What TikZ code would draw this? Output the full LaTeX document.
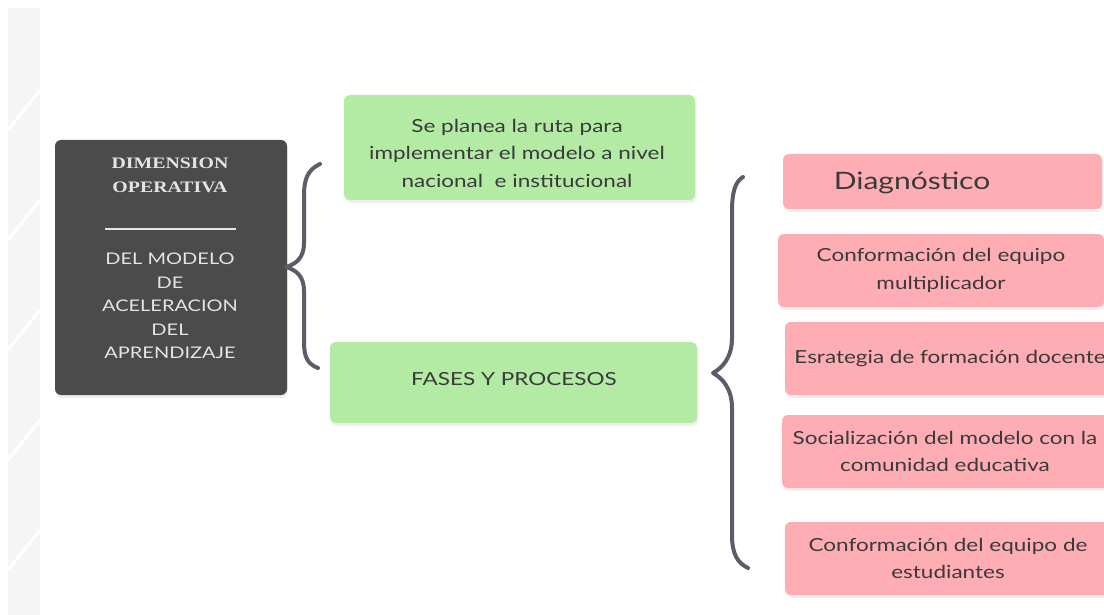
\documentclass[tikz,border=0pt]{standalone}
\usepackage{fontspec}
\setmainfont{Lato}[FakeStretch=1.25]
\newfontfamily\dimfont{Liberation Serif}[FakeStretch=1.24]
\usetikzlibrary{shadows}

\definecolor{darkfill}{HTML}{4B4B4B}
\definecolor{greenfill}{HTML}{B3EBA5}
\definecolor{pinkfill}{HTML}{FFADB4}
\definecolor{bracecol}{HTML}{5B5E68}
\definecolor{txtcol}{HTML}{3A3A3A}
\definecolor{lighttxt}{HTML}{E4E4E4}

\begin{document}
\begin{tikzpicture}[x=1pt, y=-1pt,
    box/.style={rounded corners=6pt, inner sep=0pt, align=center, text=txtcol,
        drop shadow={opacity=0.12, shadow xshift=1pt, shadow yshift=-3pt}},
    greenbox/.style={box, fill=greenfill, font=\fontsize{18}{27.5}\selectfont},
    pinkbox/.style={box, fill=pinkfill, font=\fontsize{18}{27.5}\selectfont},
    darkbox/.style={box, fill=darkfill},
    curly/.style={bracecol, line width=4pt, line cap=round, line join=round}]
\clip (0,0) rectangle (1104,615);
\fill[white] (0,0) rectangle (1104,615);

% faint strip on the left
\fill[gray!8] (8,8) rectangle (40,615);
\foreach \y in {90,200,310,420,530}
    \draw[white, line width=3pt] (8,\y+40) -- (40,\y);

% left block
\node[darkbox, minimum width=232pt, minimum height=255pt] (dim) at (171,267.5) {};
\node[text=lighttxt, align=center, font=\dimfont\bfseries\fontsize{16}{24}\selectfont] (dimtop) at (170,175) {DIMENSION\\OPERATIVA};
\draw[lighttxt, line width=2.5pt] (105,229) -- (236,229);
\node[text=lighttxt, align=center, font=\fontsize{16}{23.5}\selectfont] (dimbot) at (170,306) {DEL MODELO\\DE\\ACELERACION\\DEL\\APRENDIZAJE};

% middle column
\node[greenbox, minimum width=351pt, minimum height=105pt] (plan) at (519.5,147.5) {};
\node[text=txtcol, align=center, font=\fontsize{18}{27.5}\selectfont] (plantxt) at (517,153) {Se planea la ruta para\\implementar el modelo a nivel\\nacional \ e institucional};
\node[greenbox, minimum width=367pt, minimum height=81pt] (fases) at (513.5,382.5) {};
\node[text=txtcol, font=\fontsize{18}{27.5}\selectfont] (fasestxt) at (514,379) {FASES Y PROCESOS};

% braces
\draw[curly] (320,164) .. controls (307,170) and (304,180) .. (304,196) -- (304,243)
    .. controls (304,258) and (296,264) .. (286,267)
    .. controls (296,270) and (304,276) .. (304,291) -- (304,342)
    .. controls (304,358) and (308,364) .. (318,368);
\draw[curly] (743,177) .. controls (735,182) and (732,192) .. (732,212) -- (732,338)
    .. controls (732,358) and (722,368) .. (713,373)
    .. controls (722,378) and (732,388) .. (732,408) -- (732,535)
    .. controls (732,555) and (738,563) .. (748,568);

% right column
\node[pinkbox, minimum width=319pt, minimum height=55pt] (diag) at (942.5,181.5) {};
\node[text=txtcol, font=\fontsize{24}{30}\selectfont] (diagtxt) at (912,183) {Diagnóstico};
\node[pinkbox, minimum width=326pt, minimum height=73pt] (multi) at (941,270.5) {Conformación del equipo\\multiplicador};
\node[pinkbox, minimum width=330pt, minimum height=73pt] (docente) at (950,358.5) {Esrategia de formación docente};
\node[pinkbox, minimum width=326pt, minimum height=73pt] (social) at (945,451.5) {Socialización del modelo con la\\comunidad educativa};
\node[pinkbox, minimum width=326pt, minimum height=73pt] (estud) at (948,558.5) {Conformación del equipo de\\estudiantes};
\end{tikzpicture}
\end{document}
